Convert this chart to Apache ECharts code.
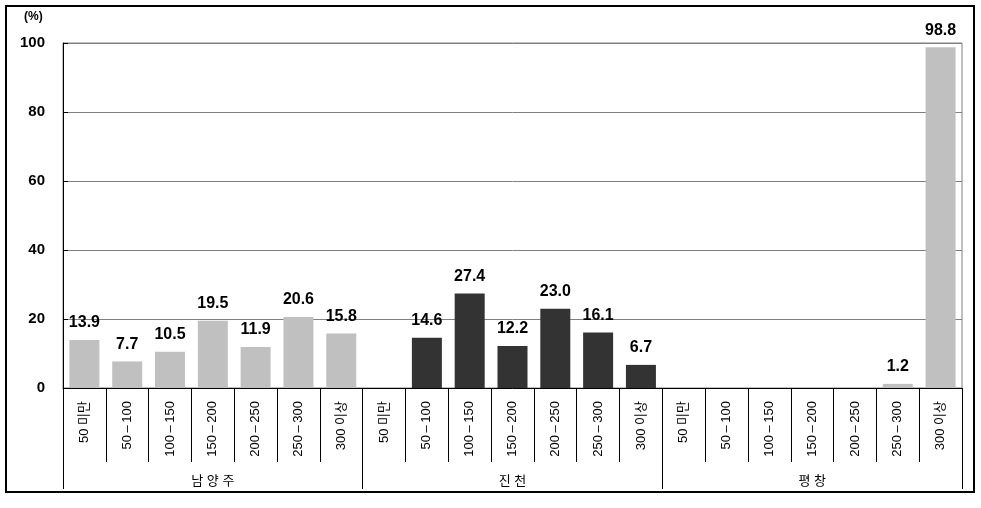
<!DOCTYPE html>
<html>
<head>
<meta charset="utf-8">
<script src="https://cdn.jsdelivr.net/npm/echarts@6/dist/echarts.min.js"></script>
<style>
html,body{margin:0;padding:0;background:#fff;}
#chart{width:981px;height:508px;}
</style>
</head>
<body>
<div id="chart"></div>
<script>
var categories = ['50 미만','50\u2009–\u2009100','100\u2009–\u2009150','150\u2009–\u2009200','200\u2009–\u2009250','250\u2009–\u2009300','300 이상',
                  '50 미만','50\u2009–\u2009100','100\u2009–\u2009150','150\u2009–\u2009200','200\u2009–\u2009250','250\u2009–\u2009300','300 이상',
                  '50 미만','50\u2009–\u2009100','100\u2009–\u2009150','150\u2009–\u2009200','200\u2009–\u2009250','250\u2009–\u2009300','300 이상'];
var groups = ['남 양 주','진 천','평 창'];
var namyangju = [13.9, 7.7, 10.5, 19.5, 11.9, 20.6, 15.8, null,null,null,null,null,null,null, null,null,null,null,null,null,null];
var jincheon  = [null,null,null,null,null,null,null, null, 14.6, 27.4, 12.2, 23.0, 16.1, 6.7, null,null,null,null,null,null,null];
var pyeongchang = [null,null,null,null,null,null,null, null,null,null,null,null,null,null, null,null,null,null,null, 1.2, 98.8];
var yTicks = [0, 20, 40, 60, 80, 100];

var FONT = "'Liberation Sans', Arial, 'Noto Sans CJK KR', sans-serif";
var chart = echarts.init(document.getElementById('chart'));

function lbl(){
  return {
    show: true, position: 'top', distance: 9,
    fontFamily: FONT, fontSize: 16, fontWeight: 'bold', color: '#000',
    formatter: function(p){ return (p.value == null) ? '' : Number(p.value).toFixed(1); }
  };
}

chart.setOption({
  animation: false,
  backgroundColor: '#fff',
  grid: { left: 63, right: 19, top: 43, bottom: 120, show: true, borderColor: '#808080', borderWidth: 1 },
  graphic: [
    { type: 'rect', shape: { x: 6, y: 6, width: 968, height: 486 }, style: { fill: 'none', stroke: '#000', lineWidth: 2 }, z: 100 },
    { type: 'text', left: 24, top: 11, style: { text: '(%)', font: 'bold 12px ' + FONT, fill: '#000' } }
  ],
  xAxis: [
    {
      type: 'category', data: categories, gridIndex: 0, position: 'bottom',
      axisLine: { show: true, lineStyle: { color: '#000', width: 1 } },
      axisTick: { show: true, length: 74, lineStyle: { color: '#000' } },
      axisLabel: { rotate: 90, margin: 13, fontFamily: FONT, fontSize: 13, color: '#000', interval: 0 },
      splitLine: { show: false }
    },
    {
      type: 'category', data: groups, gridIndex: 0, position: 'bottom',
      axisLine: { show: false },
      axisTick: { show: true, length: 101, lineStyle: { color: '#000' } },
      axisLabel: { margin: 87, fontFamily: FONT, fontSize: 13, color: '#000', interval: 0 },
      splitLine: { show: false }
    }
  ],
  yAxis: {
    type: 'value', min: 0, max: 100, interval: 20,
    axisLine: { show: true, lineStyle: { color: '#000' } },
    axisTick: { show: true, inside: true, length: 5, lineStyle: { color: '#000' } },
    axisLabel: { margin: 18, fontFamily: FONT, fontSize: 15, fontWeight: 'bold', color: '#000' },
    splitLine: { show: true, lineStyle: { color: '#808080', width: 1 } }
  },
  series: [
    { name: '남양주', type: 'bar', stack: 'all', data: namyangju, barWidth: 30, itemStyle: { color: '#C0C0C0' }, label: lbl() },
    { name: '진천', type: 'bar', stack: 'all', data: jincheon, barWidth: 30, itemStyle: { color: '#333333' }, label: lbl() },
    { name: '평창', type: 'bar', stack: 'all', data: pyeongchang, barWidth: 30, itemStyle: { color: '#C0C0C0' }, label: lbl() }
  ]
});
</script>
</body>
</html>
